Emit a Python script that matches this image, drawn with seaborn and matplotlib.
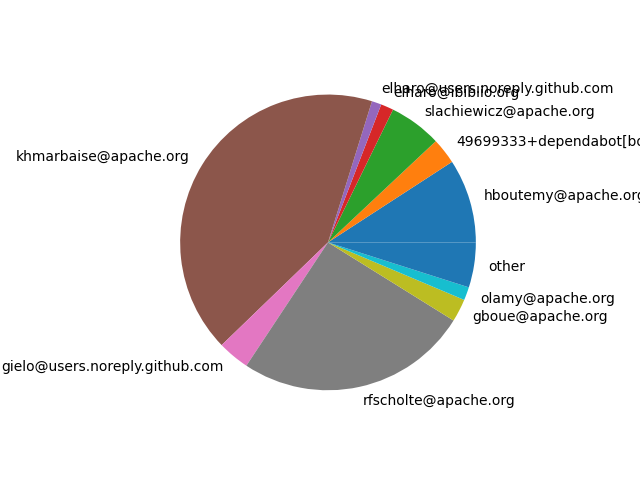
import matplotlib
matplotlib.use("Agg")
import matplotlib.pyplot as plt
import seaborn as sns

# commits per author
authors = [
    "hboutemy@apache.org",
    "49699333+dependabot[bot]@users.noreply.github.com",
    "slachiewicz@apache.org",
    "elharo@ibiblio.org",
    "elharo@users.noreply.github.com",
    "khmarbaise@apache.org",
    "gielo@users.noreply.github.com",
    "rfscholte@apache.org",
    "gboue@apache.org",
    "olamy@apache.org",
    "other",
]
commits = [33.0, 10.2, 20.7, 5.0, 3.8, 151.3, 12.5, 91.6, 9.0, 5.2, 17.7]

colors = sns.color_palette("tab10", 10)
colors = [colors[i % 10] for i in range(len(authors))]

fig, ax = plt.subplots(figsize=(6.4, 4.8), dpi=100)
ax.pie(commits, labels=authors, colors=colors)
plt.savefig("out.png")
